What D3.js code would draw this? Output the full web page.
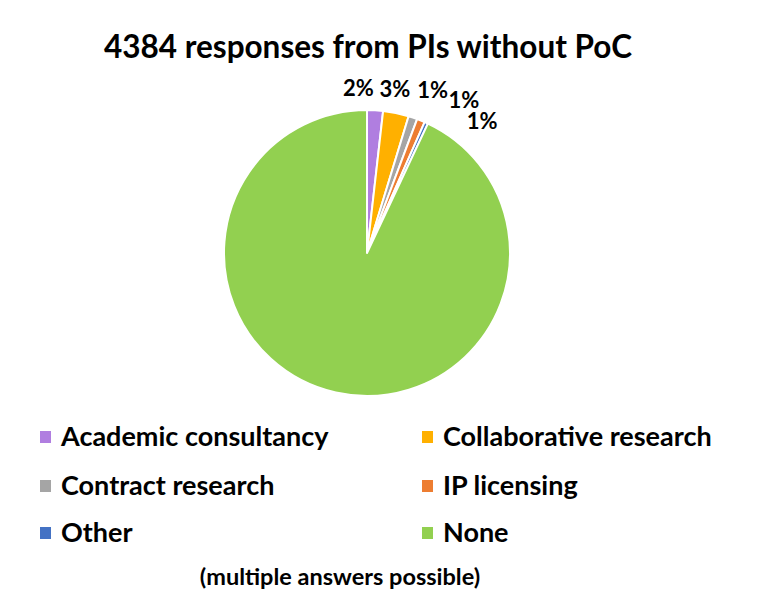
<!DOCTYPE html>
<html>
<head>
<meta charset="utf-8">
<script src="https://cdn.jsdelivr.net/npm/d3@7"></script>
<style>
  body { margin: 0; background: #fff; }
  text { font-family: Lato, "Open Sans", sans-serif; font-weight: 700; fill: #000; }
</style>
</head>
<body>
<div id="chart"></div>
<script>
// Data
var categories = ["Academic consultancy", "Collaborative research", "Contract research", "IP licensing", "Other", "None"];
var values = [1.8, 2.9, 1.0, 0.9, 0.4, 93.0];
var labels = ["2%", "3%", "1%", "1%", "1%", ""];
var colors = ["#b07ee0", "#ffb000", "#a5a5a5", "#ed7d31", "#4472c4", "#92d050"];

// Label nudges (Excel best-fit spreads the small labels out)
var labelNudge = [[-18, 2], [-6, 0], [12, -5], [34, 2], [46, 20], [0, 0]];

var width = 776, height = 597;
var cx = 367, cy = 253, radius = 143;

var svg = d3.select("#chart").append("svg")
    .attr("width", width)
    .attr("height", height);

// Title
svg.append("text")
    .attr("x", 368)
    .attr("y", 58)
    .attr("text-anchor", "middle")
    .style("font-size", "31.5px")
    .text("4384 responses from PIs without PoC");

var pie = d3.pie().sort(null).value(function(d) { return d; });
var arc = d3.arc().innerRadius(0).outerRadius(radius);
var labelArc = d3.arc().innerRadius(radius + 24).outerRadius(radius + 24);

var g = svg.append("g")
    .attr("transform", "translate(" + cx + "," + cy + ")");

var arcs = pie(values);

g.selectAll(".slice")
    .data(arcs)
  .enter().append("path")
    .attr("class", "slice")
    .attr("d", arc)
    .attr("fill", function(d, i) { return colors[i]; })
    .attr("stroke", "#fff")
    .attr("stroke-width", 2)
    .attr("stroke-linejoin", "round");

g.selectAll(".lbl")
    .data(arcs)
  .enter().append("text")
    .attr("class", "lbl")
    .attr("x", function(d, i) { return labelArc.centroid(d)[0] + labelNudge[i][0]; })
    .attr("y", function(d, i) { return labelArc.centroid(d)[1] + labelNudge[i][1]; })
    .attr("text-anchor", "middle")
    .attr("dy", "0.35em")
    .style("font-size", "22px")
    .text(function(d, i) { return labels[i]; });

// Legend
var legend = svg.append("g");
var colX = [40, 422], rowY = [437, 486, 533];

var item = legend.selectAll(".item")
    .data(categories)
  .enter().append("g")
    .attr("class", "item")
    .attr("transform", function(d, i) {
      return "translate(" + colX[i % 2] + "," + rowY[Math.floor(i / 2)] + ")";
    });

item.append("rect")
    .attr("x", 0)
    .attr("y", -6)
    .attr("width", 11)
    .attr("height", 12)
    .attr("fill", function(d, i) { return colors[i]; });

item.append("text")
    .attr("x", 21)
    .attr("dy", "0.35em")
    .style("font-size", "27px")
    .text(function(d) { return d; });

svg.append("text")
    .attr("x", 340)
    .attr("y", 585)
    .attr("text-anchor", "middle")
    .style("font-size", "23.5px")
    .text("(multiple answers possible)");
</script>
</body>
</html>
